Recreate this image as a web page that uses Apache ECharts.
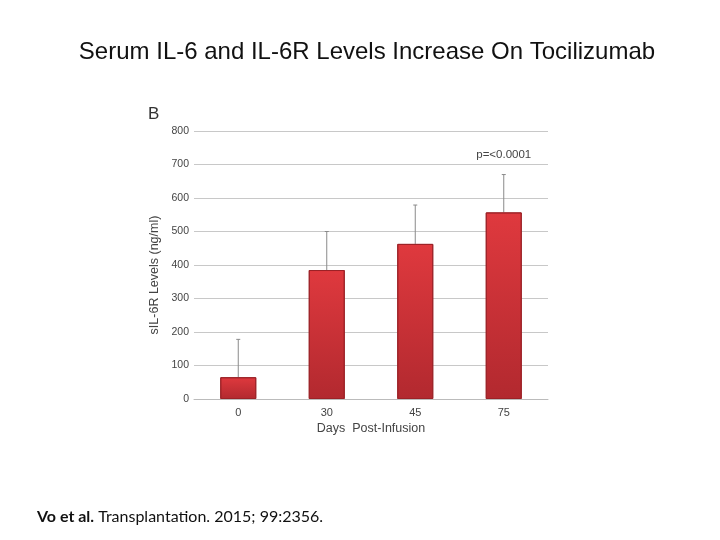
<!DOCTYPE html>
<html>
<head>
<meta charset="utf-8">
<script src="https://cdn.jsdelivr.net/npm/echarts@6/dist/echarts.min.js"></script>
<style>html,body{margin:0;padding:0;background:#fff}#c{width:720px;height:540px}</style>
</head>
<body>
<div id="c"></div>
<script>
const categories = ['0', '30', '45', '75'];
const means = [65, 385, 463, 557];
const errorTops = [178, 500, 579, 670];
const yTicks = [0, 100, 200, 300, 400, 500, 600, 700, 800];

const chart = echarts.init(document.getElementById('c'));
chart.setOption({
  animation: false,
  backgroundColor: '#fff',
  title: {
    text: 'Serum IL-6 and IL-6R Levels Increase On Tocilizumab',
    left: 365, top: 35, textAlign: 'center',
    textStyle: { fontFamily: 'Liberation Sans', fontSize: 24, fontWeight: 'normal', color: '#111' }
  },
  grid: { left: 194, right: 172, top: 131, bottom: 141 },
  xAxis: {
    type: 'category', data: categories,
    name: 'Days  Post-Infusion', nameLocation: 'middle', nameGap: 23,
    nameTextStyle: { fontFamily: 'Liberation Sans', fontSize: 12.5, color: '#444' },
    axisLine: { lineStyle: { color: '#bbb' } },
    axisTick: { show: false },
    axisLabel: { fontFamily: 'Liberation Sans', fontSize: 11, color: '#444', margin: 8 }
  },
  yAxis: {
    type: 'value', min: 0, max: 800, interval: 100,
    axisLine: { show: false }, axisTick: { show: false },
    splitLine: { lineStyle: { color: '#c8c8c8' } },
    axisLabel: { fontFamily: 'Liberation Sans', fontSize: 10.5, color: '#444', margin: 5,
      formatter: v => yTicks.includes(v) ? String(v) : '' }
  },
  series: [
    {
      type: 'custom',
      z: 1,
      data: categories.map((c, i) => [i, means[i], errorTops[i]]),
      renderItem: function (params, api) {
        const p0 = api.coord([api.value(0), api.value(1)]);
        const p1 = api.coord([api.value(0), api.value(2)]);
        return {
          type: 'group',
          children: [
            { type: 'line', shape: { x1: p0[0], y1: p0[1], x2: p1[0], y2: p1[1] }, style: { stroke: '#8a8a8a', lineWidth: 1 } },
            { type: 'line', shape: { x1: p1[0] - 2, y1: p1[1], x2: p1[0] + 2, y2: p1[1] }, style: { stroke: '#8a8a8a', lineWidth: 1 } }
          ]
        };
      }
    },
    {
      type: 'bar', data: means, barWidth: 36, z: 2,
      itemStyle: {
        color: new echarts.graphic.LinearGradient(0, 0, 0, 1, [
          { offset: 0, color: '#df393e' },
          { offset: 1, color: '#b2292f' }
        ]),
        borderColor: '#9c2227', borderWidth: 1
      },
      markPoint: {
        symbol: 'rect', symbolSize: 0,
        data: [{ coord: [3, 730], value: 'p=<0.0001' }],
        label: { show: true, formatter: 'p=<0.0001', fontFamily: 'Liberation Sans', fontSize: 11.5, color: '#444' }
      }
    }
  ],
  graphic: [
    { type: 'text', x: 155, y: 275, rotation: Math.PI / 2,
      style: { text: 'sIL-6R Levels (ng/ml)', font: '12.5px "Liberation Sans"', fill: '#444', textAlign: 'center', textVerticalAlign: 'middle' } },
    { type: 'text', left: 148, top: 106, style: { text: 'B', font: '17px "Liberation Sans"', fill: '#333' } },
    { type: 'text', left: 37, top: 509, style: {
      text: '{b|Vo et al.} Transplantation. 2015; 99:2356.',
      rich: { b: { fontWeight: 'bold', fontFamily: 'Lato', fontSize: 16, fill: '#111', color: '#111' } },
      font: '16px Lato', fill: '#111' } }
  ]
});
chart.setOption({ title: { left: 362 } });
</script>
</body>
</html>
